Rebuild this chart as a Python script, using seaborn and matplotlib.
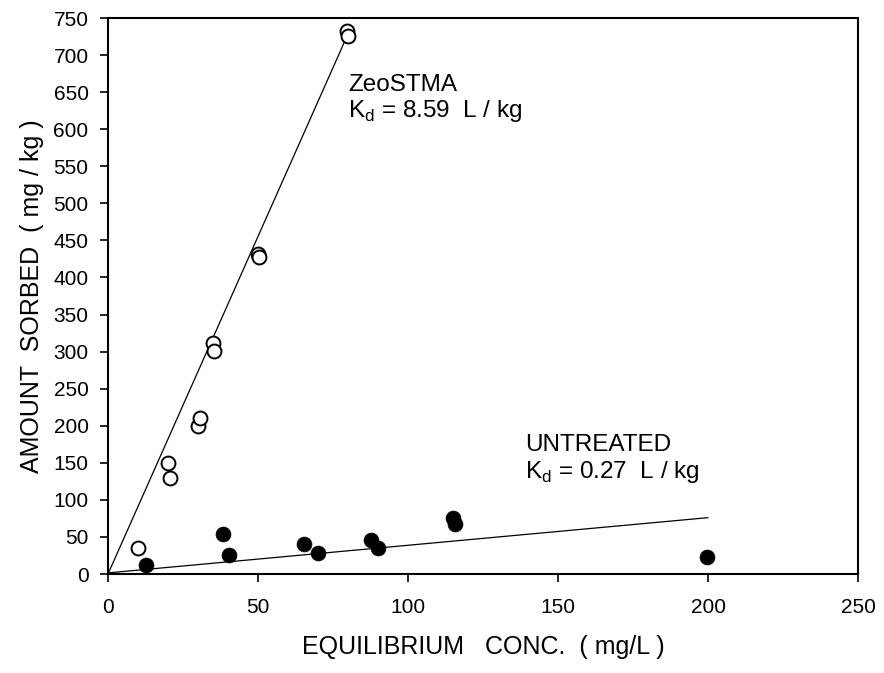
import matplotlib
matplotlib.use("Agg")
import matplotlib.pyplot as plt
import seaborn as sns
import pandas as pd

# ZeoSTMA (open circles)
zeo_x = [10, 20, 20.5, 30, 30.5, 35, 35.3, 50, 50.2, 79.7, 80]
zeo_y = [35, 150, 130, 200, 210, 311, 301, 432, 427, 732, 726]
# Untreated (filled circles)
unt_x = [12.8, 38.2, 40.2, 65.2, 70.1, 87.7, 90.0, 114.9, 115.7, 199.6]
unt_y = [12, 54, 25, 40, 29, 46, 35, 76, 68, 22.5]
# Fitted lines (endpoints)
zeo_fit_x = [0, 80.6]
zeo_fit_y = [0, 734]
unt_fit_x = [0, 200]
unt_fit_y = [1.5, 76]

x_ticks = [0, 50, 100, 150, 200, 250]
y_ticks = list(range(0, 751, 50))

sns.set_theme(style="ticks")
plt.rcParams['font.family'] = ['Liberation Sans', 'DejaVu Sans']
plt.rcParams['mathtext.fontset'] = 'custom'
plt.rcParams['mathtext.rm'] = 'Liberation Sans'
plt.rcParams['text.color'] = 'black'
plt.rcParams['axes.labelcolor'] = 'black'

fig = plt.figure(figsize=(8.84, 6.73), dpi=100)
ax = fig.add_axes([108/884, 1-574/673, (858-108)/884, (574-18)/673])

zeo_df = pd.DataFrame({"x": zeo_x, "y": zeo_y})
unt_df = pd.DataFrame({"x": unt_x, "y": unt_y})

sns.lineplot(x=zeo_fit_x, y=zeo_fit_y, ax=ax, color="black", linewidth=0.9, sort=False)
sns.lineplot(x=unt_fit_x, y=unt_fit_y, ax=ax, color="black", linewidth=0.9, sort=False)
sns.scatterplot(data=zeo_df, x="x", y="y", ax=ax, s=100, facecolor="white",
                edgecolor="black", linewidth=1.4, zorder=3)
sns.scatterplot(data=unt_df, x="x", y="y", ax=ax, s=115, color="black",
                edgecolor="black", linewidth=0.5, zorder=3)

ax.set_xlim(0, 250)
ax.set_ylim(0, 750)
ax.set_xticks(x_ticks)
ax.set_yticks(y_ticks)
ax.tick_params(direction="out", length=6, width=1.2, labelsize=15,
               colors="black", labelcolor="black")
ax.tick_params(axis="x", pad=11)
ax.tick_params(axis="y", pad=8)
for sp in ax.spines.values():
    sp.set_visible(True)
    sp.set_linewidth(1.5)
    sp.set_color("black")

ax.set_xlabel("EQUILIBRIUM   CONC.  ( mg/L )", fontsize=18, labelpad=13, color="black")
ax.set_ylabel("AMOUNT  SORBED  ( mg / kg )", fontsize=18, labelpad=7, color="black")

ax.text(80, 651, "ZeoSTMA", fontsize=17.5, ha="left", va="baseline", color="black")
ax.text(80, 616, r"K$_\mathregular{d}$ = 8.59  L / kg", fontsize=17.5, ha="left",
        va="baseline", color="black")
ax.text(139, 166, "UNTREATED", fontsize=17.5, ha="left", va="baseline", color="black")
ax.text(139, 129.5, r"K$_\mathregular{d}$ = 0.27  L / kg", fontsize=17.5, ha="left",
        va="baseline", color="black")

fig.savefig("out.png", dpi=100)
